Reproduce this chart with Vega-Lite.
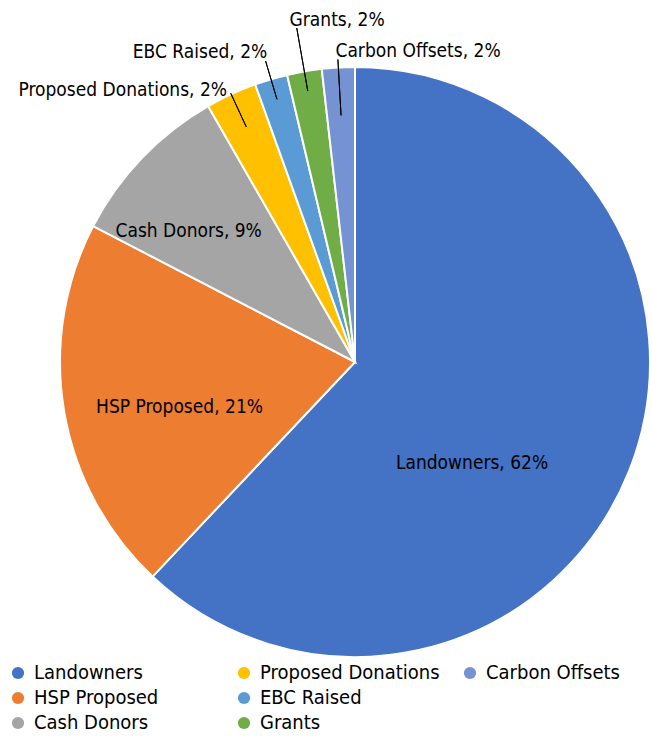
{
  "$schema": "https://vega.github.io/schema/vega-lite/v6.json",
  "width": 594,
  "height": 724,
  "autosize": {"type": "none"},
  "padding": {"left": 58, "top": 0, "right": 0, "bottom": 12},
  "background": "white",
  "config": {"view": {"stroke": null}, "font": "DejaVu Sans Condensed"},
  "data": {
    "values": [
      {"idx": 1, "name": "Landowners", "value": 62.1, "label": "Landowners, 62%"},
      {"idx": 2, "name": "HSP Proposed", "value": 20.6, "label": "HSP Proposed, 21%"},
      {"idx": 3, "name": "Cash Donors", "value": 9.1, "label": "Cash Donors, 9%"},
      {"idx": 4, "name": "Proposed Donations", "value": 2.8, "label": "Proposed Donations, 2%"},
      {"idx": 5, "name": "EBC Raised", "value": 1.8, "label": "EBC Raised, 2%"},
      {"idx": 6, "name": "Grants", "value": 1.9, "label": "Grants, 2%"},
      {"idx": 7, "name": "Carbon Offsets", "value": 1.8, "label": "Carbon Offsets, 2%"}
    ]
  },
  "encoding": {
    "theta": {"field": "value", "type": "quantitative", "stack": true},
    "order": {"field": "idx", "type": "quantitative"}
  },
  "layer": [
    {
      "mark": {"type": "arc", "radius": 295, "stroke": "white", "strokeWidth": 2},
      "encoding": {
        "color": {
          "field": "name",
          "type": "nominal",
          "scale": {
            "domain": ["Landowners", "HSP Proposed", "Cash Donors", "Proposed Donations", "EBC Raised", "Grants", "Carbon Offsets", " "],
            "range": ["#4472C4", "#ED7D31", "#A5A5A5", "#FFC000", "#5B9BD5", "#70AD47", "#7592D3", "transparent"]
          },
          "legend": {
            "title": null,
            "orient": "none",
            "legendX": -50,
            "legendY": 663,
            "values": ["Landowners", "HSP Proposed", "Cash Donors", "Proposed Donations", "EBC Raised", "Grants", "Carbon Offsets", " "],
            "columns": 3,
            "gridAlign": "all",
            "columnPadding": 20,
            "rowPadding": 5,
            "symbolType": "circle",
            "symbolSize": 150,
            "symbolStrokeWidth": 0,
            "labelFont": "DejaVu Sans Condensed",
            "labelFontSize": 20,
            "labelColor": "#000000",
            "labelOffset": 6,
            "labelLimit": 300
          }
        }
      }
    },
    {
      "mark": {"type": "arc", "radius": 296, "radius2": 259, "padAngle": 1.5, "fill": "transparent", "stroke": "black", "strokeWidth": 1},
      "encoding": {"strokeOpacity": {"condition": {"test": "datum.name === 'Proposed Donations'", "value": 1}, "value": 0}}
    },
    {
      "mark": {"type": "arc", "radius": 314, "radius2": 274, "padAngle": 1.5, "fill": "transparent", "stroke": "black", "strokeWidth": 1},
      "encoding": {"strokeOpacity": {"condition": {"test": "datum.name === 'EBC Raised'", "value": 1}, "value": 0}}
    },
    {
      "mark": {"type": "arc", "radius": 339, "radius2": 275, "padAngle": 1.5, "fill": "transparent", "stroke": "black", "strokeWidth": 1},
      "encoding": {"strokeOpacity": {"condition": {"test": "datum.name === 'Grants'", "value": 1}, "value": 0}}
    },
    {
      "mark": {"type": "arc", "radius": 303, "radius2": 247, "padAngle": 1.5, "fill": "transparent", "stroke": "black", "strokeWidth": 1},
      "encoding": {"strokeOpacity": {"condition": {"test": "datum.name === 'Carbon Offsets'", "value": 1}, "value": 0}}
    },
    {
      "mark": {"type": "text", "radius": 155, "dx": -27, "dy": 44, "align": "center", "baseline": "middle", "fontSize": 19, "color": "#000000"},
      "encoding": {"text": {"condition": {"test": "datum.name === 'Landowners'", "field": "label"}, "value": ""}}
    },
    {
      "mark": {"type": "text", "radius": 180, "dx": 2, "dy": 15, "align": "center", "baseline": "middle", "fontSize": 19, "color": "#000000"},
      "encoding": {"text": {"condition": {"test": "datum.name === 'HSP Proposed'", "field": "label"}, "value": ""}}
    },
    {
      "mark": {"type": "text", "radius": 211, "dx": -14, "dy": 15, "align": "center", "baseline": "middle", "fontSize": 19, "color": "#000000"},
      "encoding": {"text": {"condition": {"test": "datum.name === 'Cash Donors'", "field": "label"}, "value": ""}}
    },
    {
      "mark": {"type": "text", "radius": 300, "dx": -2, "dy": 0, "align": "right", "baseline": "middle", "fontSize": 19, "color": "#000000"},
      "encoding": {"text": {"condition": {"test": "datum.name === 'Proposed Donations'", "field": "label"}, "value": ""}}
    },
    {
      "mark": {"type": "text", "radius": 322, "dx": 4, "dy": -1, "align": "right", "baseline": "middle", "fontSize": 19, "color": "#000000"},
      "encoding": {"text": {"condition": {"test": "datum.name === 'EBC Raised'", "field": "label"}, "value": ""}}
    },
    {
      "mark": {"type": "text", "radius": 346, "dx": -6, "dy": -1, "align": "left", "baseline": "middle", "fontSize": 19, "color": "#000000"},
      "encoding": {"text": {"condition": {"test": "datum.name === 'Grants'", "field": "label"}, "value": ""}}
    },
    {
      "mark": {"type": "text", "radius": 311, "dx": -2, "dy": 0, "align": "left", "baseline": "middle", "fontSize": 19, "color": "#000000"},
      "encoding": {"text": {"condition": {"test": "datum.name === 'Carbon Offsets'", "field": "label"}, "value": ""}}
    }
  ]
}
